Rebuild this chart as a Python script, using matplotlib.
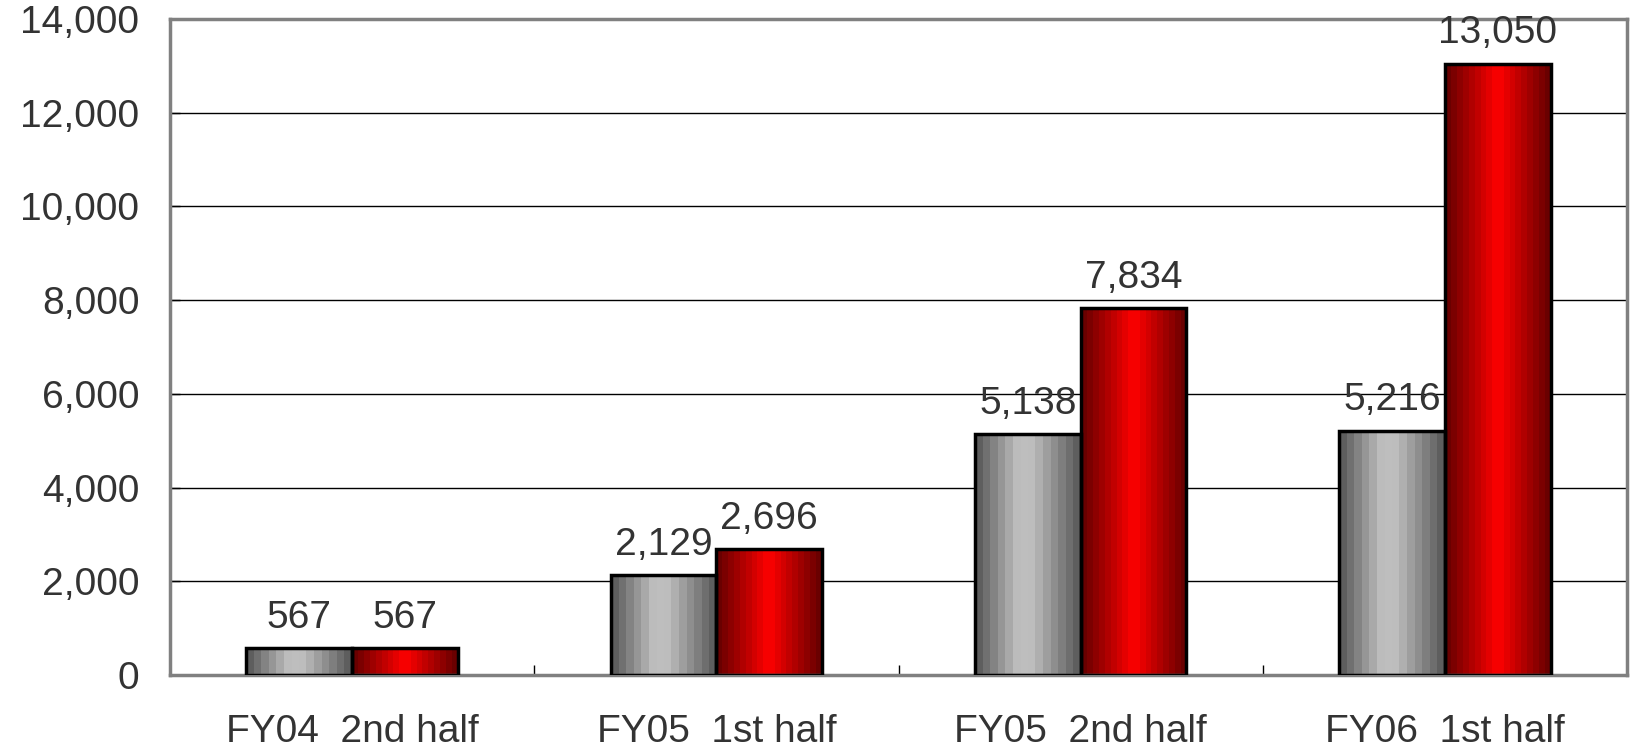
import numpy as np
import matplotlib
matplotlib.use("Agg")
import matplotlib.pyplot as plt
from matplotlib.colors import LinearSegmentedColormap
from matplotlib.patches import Rectangle

plt.rcParams['font.family'] = ['Liberation Sans', 'DejaVu Sans']

categories = ["FY04  2nd half", "FY05  1st half", "FY05  2nd half", "FY06  1st half"]
gray_values = [567, 2129, 5138, 5216]
red_values = [567, 2696, 7834, 13050]
y_ticks = [0, 2000, 4000, 6000, 8000, 10000, 12000, 14000]

W, H = 1636, 750
fig = plt.figure(figsize=(W / 100, H / 100), dpi=100)
ax = fig.add_axes([170 / W, 1 - 675 / H, 1457 / W, 656 / H])

gray_cmap = LinearSegmentedColormap.from_list(
    "g", [(0, "#5e5e5e"), (0.4, "#c0c0c0"), (0.55, "#bdbdbd"), (1, "#5e5e5e")], N=14)
red_cmap = LinearSegmentedColormap.from_list(
    "r", [(0, "#6a0000"), (0.5, "#ff0000"), (1, "#6a0000")], N=18)
grad = np.linspace(0, 1, 200).reshape(1, -1)

bw = 0.29
x = np.arange(len(categories))
text_color = "#333333"
fs = 28

def gradient_bar(xl, h, cmap):
    ax.imshow(grad, cmap=cmap, aspect="auto", extent=[xl, xl + bw, 0, h],
              zorder=2, interpolation="nearest")
    ax.add_patch(Rectangle((xl, 0), bw, h, fill=False, edgecolor="black",
                           linewidth=2.5, zorder=3))

for i in range(len(categories)):
    gradient_bar(x[i] - bw, gray_values[i], gray_cmap)
    gradient_bar(x[i], red_values[i], red_cmap)
    ax.text(x[i] - bw / 2, gray_values[i] + 430, f"{gray_values[i]:,}",
            ha="center", va="baseline", fontsize=fs, color=text_color, zorder=4)
    ax.text(x[i] + bw / 2, red_values[i] + 430, f"{red_values[i]:,}",
            ha="center", va="baseline", fontsize=fs, color=text_color, zorder=4)

ax.set_xlim(-0.5, len(categories) - 0.5)
ax.set_ylim(0, 14000)
ax.set_yticks(y_ticks)
ax.set_yticklabels([f"{v:,}" for v in y_ticks])
ax.yaxis.grid(True, color="black", linewidth=1)
ax.set_axisbelow(True)

ax.set_xticks(x)
ax.set_xticklabels(categories)
ax.set_xticks(np.arange(0.5, len(categories) - 0.5, 1), minor=True)
ax.tick_params(axis="x", which="major", length=0, pad=28, labelsize=fs,
               labelcolor=text_color)
ax.tick_params(axis="x", which="minor", direction="in", length=7, width=1)
ax.tick_params(axis="y", direction="in", length=7, width=1, pad=22,
               labelsize=fs, labelcolor=text_color)

for s in ax.spines.values():
    s.set_color("#808080")
    s.set_linewidth(2.5)

fig.savefig("out.png", dpi=100)
